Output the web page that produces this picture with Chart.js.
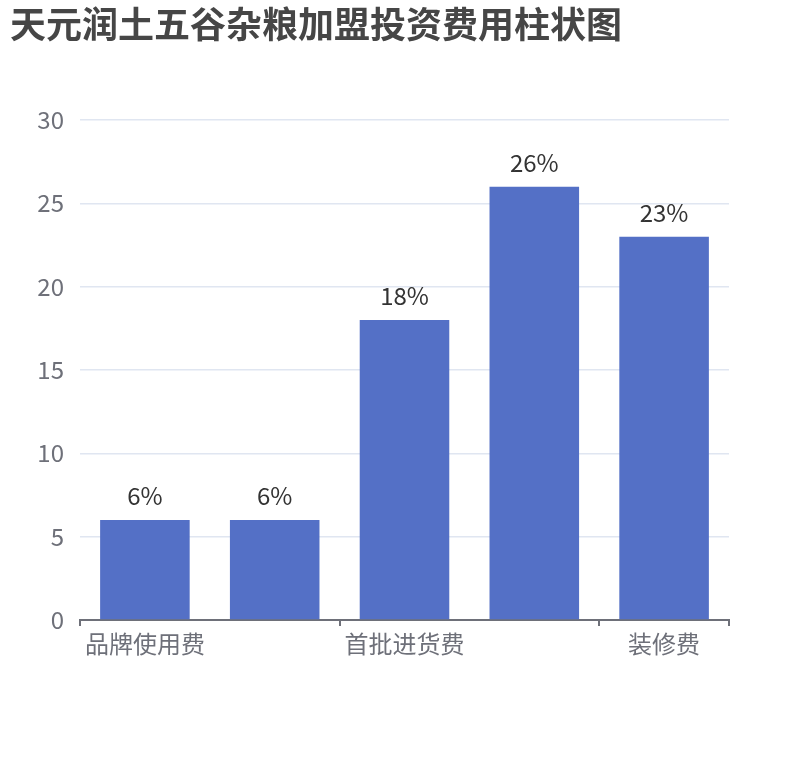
<!DOCTYPE html>
<html>
<head>
<meta charset="utf-8">
<script src="https://cdn.jsdelivr.net/npm/chart.js@4/dist/chart.umd.min.js"></script>
<style>
  html, body { margin: 0; padding: 0; background: #fff; }
  #wrap { width: 810px; height: 760px; }
</style>
</head>
<body>
<div id="wrap"><canvas id="grafico"></canvas></div>
<script>
// dados do gráfico (os rótulos 1 e 3 ficam ocultos no eixo, como no original)
const categorias = ['品牌使用费', '加盟费', '首批进货费', '设备费', '装修费'];
const valores = [6, 6, 18, 26, 23];
const rotulosValor = ['6%', '6%', '18%', '26%', '23%'];
const ticksY = [0, 5, 10, 15, 20, 25, 30];

const fonte = "'Noto Sans CJK SC', 'Noto Sans', sans-serif";
const corEixo = '#6e7079';

// escreve o percentual em cima de cada barra
const rotuloBarras = {
    id: 'rotuloBarras',
    afterDatasetsDraw(chart) {
        const ctx = chart.ctx;
        const meta = chart.getDatasetMeta(0);
        ctx.save();
        ctx.font = '24px ' + fonte;
        ctx.fillStyle = '#333333';
        ctx.textAlign = 'center';
        ctx.textBaseline = 'alphabetic';
        meta.data.forEach((barra, i) => {
            ctx.fillText(rotulosValor[i], barra.x, barra.y - 15);
        });
        ctx.restore();
    }
};

const ctx = document.getElementById('grafico').getContext('2d');
new Chart(ctx, {
    type: 'bar',
    data: {
        labels: categorias,
        datasets: [{
            data: valores,
            backgroundColor: '#5470c6',
            barPercentage: 1,
            categoryPercentage: 0.69
        }]
    },
    options: {
        responsive: true,
        maintainAspectRatio: false,
        animation: false,
        layout: { padding: { left: 10, top: 3, right: 81, bottom: 0 } },
        plugins: {
            legend: { display: false },
            tooltip: { enabled: false },
            title: {
                display: true,
                text: '天元润土五谷杂粮加盟投资费用柱状图',
                align: 'start',
                color: '#464646',
                font: { family: fonte, size: 36, weight: 'bold', lineHeight: 1.2 },
                padding: { top: 0, bottom: 73.8 }
            }
        },
        scales: {
            x: {
                grid: {
                    offset: true,
                    drawOnChartArea: false,
                    drawTicks: true,
                    tickLength: 6,
                    lineWidth: 2,
                    // só marca os limites a cada duas categorias
                    tickColor: c => (c.index === undefined || c.index % 2 === 0) ? corEixo : 'rgba(0,0,0,0)'
                },
                border: { color: corEixo, width: 2 },
                ticks: {
                    autoSkip: false,
                    maxRotation: 0,
                    padding: 3,
                    color: corEixo,
                    font: { family: fonte, size: 24 },
                    callback: (v, i) => i % 2 === 0 ? categorias[i] : ''
                },
                afterFit: s => { s.height = 140; }
            },
            y: {
                min: 0,
                max: 30,
                afterBuildTicks: s => { s.ticks = ticksY.map(v => ({ value: v })); },
                grid: { color: '#e0e6f1', lineWidth: 1.5, drawTicks: false },
                border: { display: false },
                ticks: {
                    padding: 16,
                    color: corEixo,
                    font: { family: fonte, size: 24 }
                },
                afterFit: s => { s.width = 70; }
            }
        }
    },
    plugins: [rotuloBarras]
});
</script>
</body>
</html>
